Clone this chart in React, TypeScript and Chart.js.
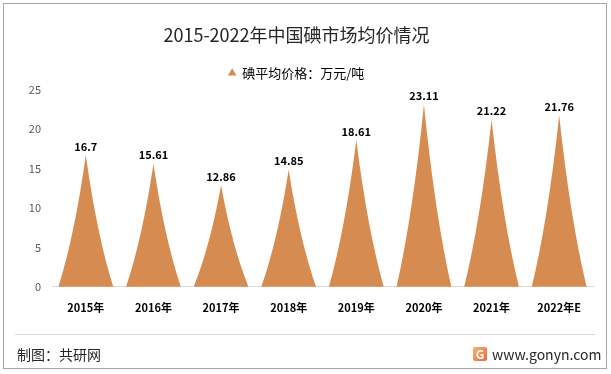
import React, { useEffect, useRef } from "react";
import { Chart, registerables } from "chart.js";

Chart.register(...registerables);

const categories = ["2015年", "2016年", "2017年", "2018年", "2019年", "2020年", "2021年", "2022年E"];
const prices = [16.7, 15.61, 12.86, 14.85, 18.61, 23.11, 21.22, 21.76];
const priceLabels = ["16.7", "15.61", "12.86", "14.85", "18.61", "23.11", "21.22", "21.76"];
const yTicks = [0, 5, 10, 15, 20, 25];

const FONT = "'Noto Sans CJK SC', 'Noto Sans', sans-serif";
const ORANGE = "#D68C50";

const peakPlugin = {
  id: "peakShapes",
  afterDatasetsDraw(chart: any) {
    const ctx = chart.ctx;
    const meta = chart.getDatasetMeta(0);
    ctx.save();
    meta.data.forEach((el: any, i: number) => {
      const { x, y, base, width } = el.getProps(["x", "y", "base", "width"], true);
      const hw = width / 2;
      const h = base - y;
      ctx.fillStyle = ORANGE;
      ctx.beginPath();
      ctx.moveTo(x - hw, base);
      ctx.quadraticCurveTo(x - 0.4 * hw, base - 0.4 * h, x, y);
      ctx.quadraticCurveTo(x + 0.4 * hw, base - 0.4 * h, x + hw, base);
      ctx.closePath();
      ctx.fill();
      ctx.fillStyle = "#000";
      ctx.font = `bold 11px ${FONT}`;
      ctx.textAlign = "center";
      ctx.textBaseline = "bottom";
      ctx.fillText(priceLabels[i], x, y - 3);
    });
    ctx.restore();
  },
};

export default function App() {
  const ref = useRef<HTMLCanvasElement | null>(null);
  useEffect(() => {
    document.body.style.margin = "0";
    const chart = new Chart(ref.current!, {
      type: "bar",
      data: {
        labels: categories,
        datasets: [
          {
            label: "碘平均价格：万元/吨",
            data: prices,
            backgroundColor: "rgba(0,0,0,0)",
            borderWidth: 0,
            barPercentage: 0.81,
            categoryPercentage: 1,
            pointStyle: "triangle",
          } as any,
        ],
      },
      options: {
        animation: false,
        responsive: false,
        layout: { padding: { left: 0, right: 18, top: 0, bottom: 46 } },
        plugins: {
          title: {
            display: true,
            text: "2015-2022年中国碘市场均价情况",
            color: "#262626",
            font: { family: FONT, size: 18, weight: "normal" },
            padding: { top: 24, bottom: 11 },
          },
          legend: {
            display: true,
            labels: {
              usePointStyle: true,
              pointStyle: "triangle",
              boxWidth: 7,
              boxHeight: 7,
              color: "#404040",
              font: { family: FONT, size: 13 },
              generateLabels: (c: any) => [
                {
                  text: c.data.datasets[0].label,
                  fillStyle: ORANGE,
                  strokeStyle: ORANGE,
                  lineWidth: 0,
                  pointStyle: "triangle",
                  datasetIndex: 0,
                  hidden: false,
                },
              ],
            },
          },
          tooltip: { enabled: false },
        },
        scales: {
          x: {
            grid: { display: false, drawTicks: false },
            border: { display: true, color: "#d9d9d9", width: 1 },
            ticks: { color: "#000", font: { family: FONT, size: 11, weight: "bold" }, padding: 14 },
          },
          y: {
            min: 0,
            max: 25,
            afterFit: (s: any) => {
              s.width = 52;
            },
            afterBuildTicks: (s: any) => {
              s.ticks = yTicks.map((v) => ({ value: v }));
            },
            grid: { display: false, drawTicks: false },
            border: { display: false },
            ticks: { color: "#595959", font: { family: FONT, size: 11 }, padding: 11 },
          },
        },
      },
      plugins: [peakPlugin],
    });
    return () => chart.destroy();
  }, []);

  return (
    <div style={{ position: "relative", width: 611, height: 374, background: "#fff", fontFamily: FONT }}>
      <div
        style={{
          position: "absolute",
          left: 3,
          top: 3,
          width: 602,
          height: 364,
          border: "1px solid #a6a6a6",
          boxSizing: "content-box",
        }}
      />
      <canvas ref={ref} width={611} height={374} style={{ position: "absolute", left: 0, top: 0 }} />
      <div style={{ position: "absolute", left: 15, top: 334, width: 580, height: 1, background: "#d9d9d9" }} />
      <div style={{ position: "absolute", left: 17, top: 344, fontSize: 14, lineHeight: "20px", color: "#262626" }}>
        制图：共研网
      </div>
      <div
        style={{
          position: "absolute",
          left: 473,
          top: 344,
          display: "flex",
          alignItems: "center",
          fontSize: 14,
          lineHeight: "20px",
          color: "#262626",
        }}
      >
        <span
          style={{
            display: "inline-block",
            width: 14,
            height: 14,
            borderRadius: 2,
            background: "linear-gradient(135deg, #f9b36a, #ec6a3c)",
            color: "#fff",
            fontSize: 12,
            fontWeight: "bold",
            lineHeight: "14px",
            textAlign: "center",
            marginRight: 5,
          }}
        >
          G
        </span>
        <span>www.gonyn.com</span>
      </div>
    </div>
  );
}
